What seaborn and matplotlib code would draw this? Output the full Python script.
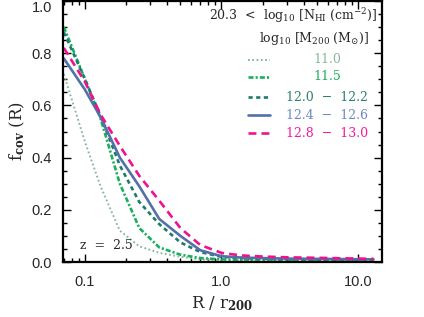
import numpy as np
import pandas as pd
import matplotlib
matplotlib.use("Agg")
import matplotlib.pyplot as plt
import matplotlib.transforms as mtransforms
import seaborn as sns
from matplotlib.ticker import FixedLocator, FixedFormatter, MultipleLocator, LogLocator, NullFormatter

# ---- data ----
R = [0.07, 0.1, 0.13, 0.18, 0.25, 0.35, 0.5, 0.7, 1.0, 1.4, 2.0, 3.0, 5.0, 8.0, 13.0]
f_110 = [0.72, 0.46, 0.29, 0.12, 0.06, 0.035, 0.02, 0.01, 0.007, 0.006, 0.005, 0.005, 0.004, 0.004, 0.004]
f_115 = [0.90, 0.70, 0.55, 0.30, 0.13, 0.056, 0.028, 0.015, 0.010, 0.008, 0.007, 0.006, 0.005, 0.005, 0.004]
f_120 = [0.88, 0.70, 0.56, 0.37, 0.23, 0.145, 0.075, 0.038, 0.020, 0.015, 0.012, 0.010, 0.009, 0.008, 0.007]
f_124 = [0.78, 0.66, 0.555, 0.40, 0.29, 0.165, 0.10, 0.045, 0.022, 0.017, 0.015, 0.013, 0.012, 0.011, 0.010]
f_128 = [0.82, 0.69, 0.565, 0.445, 0.33, 0.235, 0.13, 0.065, 0.035, 0.025, 0.021, 0.018, 0.016, 0.014, 0.012]
labels = ["11.0", "11.5", "12.0  \u2212  12.2", "12.4  \u2212  12.6", "12.8  \u2212  13.0"]
series = [f_110, f_115, f_120, f_124, f_128]
xtick_vals = [0.1, 1.0, 10.0]
xtick_labels = ["0.1", "1.0", "10.0"]

line_colors = ["#86b89a", "#1aaf5d", "#1e7b6c", "#5470a8", "#f0128c"]
text_colors = ["#86b89a", "#1aaf5d", "#2a8070", "#6f88c4", "#f51a98"]
styles = [(0, (0.9, 1.3)), (0, (1.9, 0.8, 0.8, 0.8)), (0, (1.6, 1.3)), "-", (0, (3.0, 1.9))]
widths = [1.4, 1.9, 1.9, 1.9, 1.9]

df = pd.DataFrame({
    "R": np.concatenate([R] * len(series)),
    "f": np.concatenate(series),
    "mass": np.repeat(labels, len(R)),
})

sns.set_theme(style="white")
plt.rcParams["font.family"] = ["DejaVu Serif"]
plt.rcParams["mathtext.fontset"] = "dejavuserif"

fig = plt.figure(figsize=(4.24, 3.17), dpi=100)
ax = fig.add_axes([63 / 424, 1 - 262 / 317, 319 / 424, 261 / 317])

for lab, col, ls, lw in zip(labels, line_colors, styles, widths):
    sub = df[df["mass"] == lab]
    sns.lineplot(data=sub, x="R", y="f", color=col, linestyle=ls, linewidth=lw, ax=ax, legend=False)

ax.set_xscale("log")
ax.set_xlim(0.069, 15.0)
ax.set_ylim(0.0, 1.0)

ax.xaxis.set_major_locator(FixedLocator(xtick_vals))
ax.xaxis.set_major_formatter(FixedFormatter(xtick_labels))
ax.xaxis.set_minor_locator(LogLocator(base=10, subs=np.arange(2, 10)))
ax.xaxis.set_minor_formatter(NullFormatter())
ax.yaxis.set_major_locator(FixedLocator([0.0, 0.2, 0.4, 0.6, 0.8, 1.0]))
ax.yaxis.set_major_formatter(FixedFormatter(["0.0", "0.2", "0.4", "0.6", "0.8", ""]))
ax.yaxis.set_minor_locator(MultipleLocator(0.05))

ax.tick_params(which="both", direction="in", top=True, right=True, bottom=True, left=True,
               color="black", width=1.0)
ax.tick_params(which="major", length=6)
ax.tick_params(which="minor", length=3)
ax.tick_params(axis="x", which="major", pad=9)
ax.tick_params(axis="y", which="major", pad=8)
for t in ax.get_xticklabels() + ax.get_yticklabels():
    t.set_fontfamily("Liberation Sans")
    t.set_fontsize(10.5)
for s in ax.spines.values():
    s.set_linewidth(1.6)
    s.set_color("black")

# the top y label sits just inside the figure, as in the reference
trans = mtransforms.blended_transform_factory(ax.transAxes, ax.transData)
trans = trans + mtransforms.ScaledTranslation(-8 / 72, 0, fig.dpi_scale_trans)
ax.text(0.0, 1.0, "1.0", transform=trans, ha="right", va="top",
        fontfamily="Liberation Sans", fontsize=10.5)

ax.set_xlabel(r"R / r$_{\mathbf{200}}$", fontsize=12, labelpad=4)
ax.set_ylabel(r"f$_{\mathbf{cov}}$ (R)", fontsize=12, labelpad=3)

# legend (manual, swatches in axes coordinates)
ys = [0.774, 0.709, 0.632, 0.563, 0.494]
for y, col, tcol, ls, lw, lab in zip(ys, line_colors, text_colors, styles, widths, labels):
    ax.plot([0.58, 0.649], [y, y], transform=ax.transAxes, color=col, linestyle=ls, linewidth=lw)
    ax.text(0.828, y, lab, transform=ax.transAxes, color=tcol, fontsize=9,
            ha="center", va="center")

ax.text(0.984, 0.946, r"20.3  <  log$_{10}$ [N$_{\mathrm{HI}}$ (cm$^{-2}$)]", transform=ax.transAxes,
        fontsize=9, ha="right", va="center")
ax.text(0.959, 0.858, r"log$_{10}$ [M$_{200}$ (M$_{\odot}$)]", transform=ax.transAxes,
        fontsize=9, ha="right", va="center")
ax.text(0.053, 0.065, "z  =  2.5", transform=ax.transAxes, fontsize=9, ha="left", va="center")

fig.savefig("out.png", dpi=100)
